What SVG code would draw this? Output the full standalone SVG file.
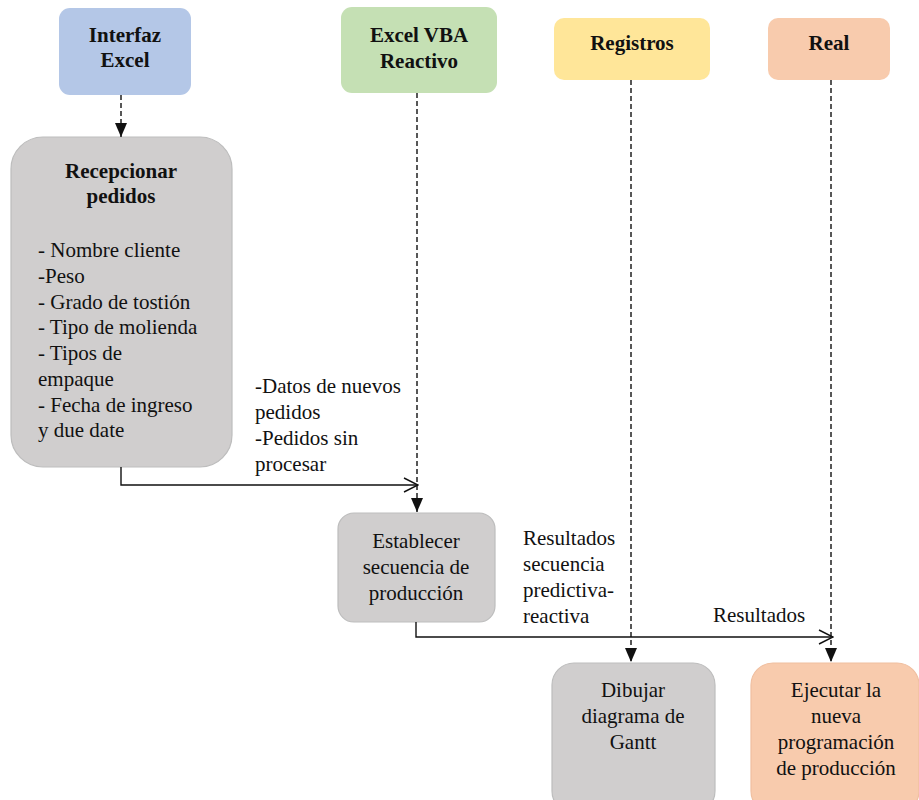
<svg xmlns="http://www.w3.org/2000/svg" width="919" height="800" viewBox="0 0 919 800">
<style>
.hdr{font-family:'Liberation Serif','DejaVu Serif',serif;font-weight:bold;font-size:21px;fill:#111;text-anchor:middle}
.txt{font-family:'Liberation Serif','DejaVu Serif',serif;font-size:21px;fill:#111}
.mid{text-anchor:middle}
.dash{fill:none;stroke:#111;stroke-width:1.4;stroke-dasharray:5 3}
.solid{fill:none;stroke:#111;stroke-width:1.4}
.gray{fill:#D0CECE;stroke:#BDBDBD;stroke-width:1.2}
</style>
<defs>
<marker id="fill" markerUnits="userSpaceOnUse" markerWidth="14" markerHeight="16" viewBox="0 0 14 16" refX="14" refY="6" orient="auto">
<path d="M0,0 L14,6 L0,12 Z" fill="#111"/>
</marker>
<marker id="open" markerUnits="userSpaceOnUse" markerWidth="16" markerHeight="16" viewBox="0 0 16 16" refX="15" refY="8" orient="auto">
<path d="M1,1 L15,8 L1,15" fill="none" stroke="#111" stroke-width="1.4"/>
</marker>
</defs>
<g id="interfaz">
<rect x="59" y="8" width="132" height="87" rx="11" fill="#B4C7E7"/>
<text class="hdr" x="125" y="42">Interfaz</text>
<text class="hdr" x="125" y="67">Excel</text>
</g>
<g id="vba">
<rect x="341" y="7" width="156" height="86" rx="11" fill="#C5E0B4"/>
<text class="hdr" x="419" y="42">Excel VBA</text>
<text class="hdr" x="419" y="68">Reactivo</text>
</g>
<g id="registros">
<rect x="554" y="18" width="156" height="62" rx="10" fill="#FFE699"/>
<text class="hdr" x="632" y="50">Registros</text>
</g>
<g id="real">
<rect x="768" y="18" width="122" height="62" rx="10" fill="#F8CBAD"/>
<text class="hdr" x="829" y="50">Real</text>
</g>
<g id="recepcionar">
<rect class="gray" x="11" y="137" width="221" height="330" rx="32"/>
<text class="hdr" x="121" y="178">Recepcionar</text>
<text class="hdr" x="121" y="203">pedidos</text>
<text class="txt" x="38" y="257">- Nombre cliente</text>
<text class="txt" x="38" y="283">-Peso</text>
<text class="txt" x="38" y="309">- Grado de tostión</text>
<text class="txt" x="38" y="334">- Tipo de molienda</text>
<text class="txt" x="38" y="360">- Tipos de</text>
<text class="txt" x="38" y="386">empaque</text>
<text class="txt" x="38" y="412">- Fecha de ingreso</text>
<text class="txt" x="38" y="437">y due date</text>
</g>
<g id="establecer">
<rect class="gray" x="338" y="513" width="157" height="109" rx="16"/>
<text class="txt mid" x="416" y="548">Establecer</text>
<text class="txt mid" x="416" y="574">secuencia de</text>
<text class="txt mid" x="416" y="600">producción</text>
</g>
<g id="dibujar">
<rect class="gray" x="552" y="663" width="163" height="150" rx="22"/>
<text class="txt mid" x="633" y="697">Dibujar</text>
<text class="txt mid" x="633" y="723">diagrama de</text>
<text class="txt mid" x="633" y="749">Gantt</text>
</g>
<g id="ejecutar">
<rect x="751" y="663" width="168" height="150" rx="22" fill="#F8CBAD" stroke="#F0BFA0" stroke-width="1.2"/>
<text class="txt mid" x="836" y="697">Ejecutar la</text>
<text class="txt mid" x="836" y="723">nueva</text>
<text class="txt mid" x="836" y="749">programación</text>
<text class="txt mid" x="836" y="775">de producción</text>
</g>
<g id="connectors">
<line class="dash" x1="121" y1="95" x2="121" y2="137" marker-end="url(#fill)"/>
<line class="dash" x1="417" y1="93" x2="417" y2="512" marker-end="url(#fill)"/>
<line class="dash" x1="631" y1="80" x2="631" y2="662" marker-end="url(#fill)"/>
<line class="dash" x1="831" y1="80" x2="831" y2="662" marker-end="url(#fill)"/>
<polyline class="solid" points="121,467 121,485 418,485" marker-end="url(#open)"/>
<polyline class="solid" points="416,622 416,637 833,637" marker-end="url(#open)"/>
<text class="txt" x="255" y="393">-Datos de nuevos</text>
<text class="txt" x="255" y="419">pedidos</text>
<text class="txt" x="255" y="445">-Pedidos sin</text>
<text class="txt" x="255" y="471">procesar</text>
<text class="txt" x="523" y="545">Resultados</text>
<text class="txt" x="523" y="571">secuencia</text>
<text class="txt" x="523" y="597">predictiva-</text>
<text class="txt" x="523" y="623">reactiva</text>
<text class="txt" x="713" y="622">Resultados</text>
</g>
</svg>
